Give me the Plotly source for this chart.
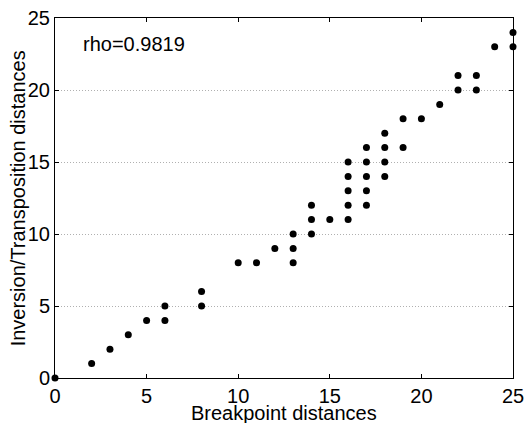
import plotly.graph_objects as go

# Breakpoint distance vs inversion/transposition distance
breakpoint_dist = [0, 2, 3, 4, 5, 6, 6, 8, 8, 10, 11, 12, 13, 13, 13,
                   14, 14, 14, 15, 16, 16, 16, 16, 16, 17, 17, 17, 17, 17,
                   18, 18, 18, 18, 19, 19, 20, 21, 22, 22, 23, 23, 24, 25, 25]
invtrans_dist = [0, 1, 2, 3, 4, 4, 5, 5, 6, 8, 8, 9, 8, 9, 10,
                 10, 11, 12, 11, 11, 12, 13, 14, 15, 12, 13, 14, 15, 16,
                 14, 15, 16, 17, 16, 18, 18, 19, 20, 21, 20, 21, 23, 23, 24]
tick_vals = [0, 5, 10, 15, 20, 25]
rho_text = "rho=0.9819"

fig = go.Figure()
fig.add_trace(go.Scatter(x=breakpoint_dist, y=invtrans_dist, mode="markers",
                         marker=dict(color="black", size=7),
                         cliponaxis=False, showlegend=False))

fig.add_annotation(x=1.4, y=23.2, text=rho_text, showarrow=False,
                   xanchor="left", yanchor="middle",
                   font=dict(size=20, color="black"))

# axis titles as annotations so they sit where the matlab ones did
fig.add_annotation(xref="paper", yref="paper", x=0.5, y=-0.063,
                   text="Breakpoint distances", showarrow=False,
                   xanchor="center", yanchor="top", borderpad=0,
                   font=dict(size=20, color="black"))
fig.add_annotation(xref="paper", yref="paper", x=-0.08, y=0.5,
                   text="Inversion/Transposition distances", showarrow=False,
                   textangle=-90, xanchor="center", yanchor="middle",
                   font=dict(size=20, color="black"))

axis_common = dict(range=[0, 25], tickvals=tick_vals, ticks="inside", ticklen=4,
                   tickcolor="black", showline=True, linecolor="black", linewidth=1,
                   mirror="allticks", zeroline=False, automargin=False,
                   ticklabelstandoff=0, tickfont=dict(size=20, color="black"))

fig.update_xaxes(**axis_common, showgrid=False)
fig.update_yaxes(**axis_common, showgrid=True, gridcolor="#b0b0b0",
                 griddash="1px,2px", gridwidth=1)

fig.update_layout(width=525, height=423,
                  margin=dict(l=55, r=12, t=18, b=45),
                  plot_bgcolor="white", paper_bgcolor="white",
                  font=dict(family="Liberation Sans, Arial, sans-serif"))

fig.write_html("out.html", config={"displayModeBar": False},
               post_script="document.body.style.margin='0';"
                           "document.body.style.overflow='hidden';")
